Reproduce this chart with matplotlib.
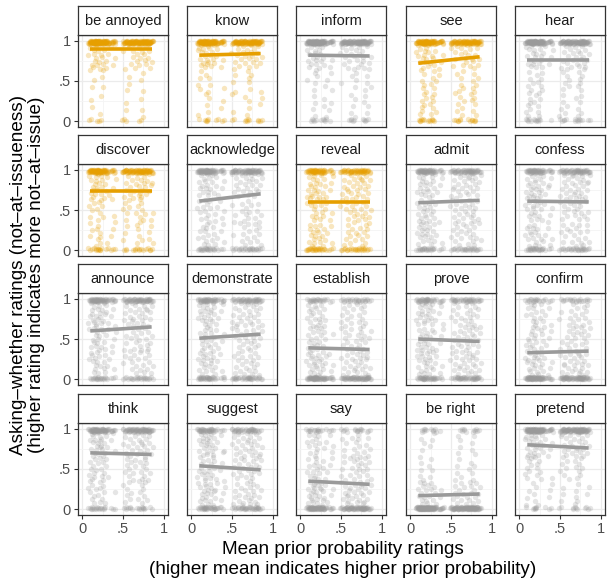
import numpy as np
import matplotlib
matplotlib.use("Agg")
import matplotlib.pyplot as plt

plt.rcParams["font.family"] = ["Liberation Sans", "DejaVu Sans"]

# ---------------- data ----------------
verbs = ["be annoyed", "know", "inform", "see", "hear",
         "discover", "acknowledge", "reveal", "admit", "confess",
         "announce", "demonstrate", "establish", "prove", "confirm",
         "think", "suggest", "say", "be right", "pretend"]
highlighted = ["be annoyed", "know", "see", "discover", "reveal"]

# regression line values at the low and high end of the prior range
fit_x = [0.10, 0.85]
fit_left = [0.90, 0.82, 0.82, 0.72, 0.76, 0.73, 0.61, 0.60, 0.59, 0.61,
            0.60, 0.51, 0.39, 0.50, 0.33, 0.70, 0.54, 0.35, 0.17, 0.80]
fit_right = [0.90, 0.84, 0.81, 0.80, 0.76, 0.73, 0.70, 0.60, 0.62, 0.60,
             0.65, 0.56, 0.37, 0.47, 0.35, 0.68, 0.49, 0.31, 0.19, 0.76]

# item prior means (x positions of the point columns)
item_priors = [0.10, 0.12, 0.15, 0.17, 0.19, 0.21, 0.24, 0.27, 0.30, 0.38,
               0.52, 0.56, 0.60, 0.64, 0.68, 0.71, 0.74, 0.77, 0.80, 0.84]

# counts of ratings per verb: at 0, low (.05-.35), mid (.35-.65), high (.65-.95), at 1
n_zero = [10, 21, 21, 27, 27, 33, 51, 54, 51, 54, 48, 69, 114, 78, 126, 39, 69, 126, 198, 21]
n_low  = [9, 15, 18, 27, 24, 27, 36, 42, 45, 42, 42, 45, 54, 51, 54, 33, 51, 60, 45, 21]
n_mid  = [12, 18, 21, 24, 27, 30, 36, 42, 45, 45, 42, 45, 42, 48, 42, 39, 48, 42, 18, 30]
n_high = [44, 51, 45, 45, 48, 51, 48, 51, 51, 54, 54, 51, 39, 48, 36, 54, 54, 36, 15, 54]
n_one  = [225, 195, 195, 177, 174, 159, 129, 111, 108, 105, 114, 90, 51, 75, 42, 135, 78, 36, 24, 174]

bin_ranges = [(0.0, 0.03), (0.05, 0.35), (0.35, 0.65), (0.65, 0.95), (0.96, 1.0)]

ORANGE = "#E69F00"
GREY = "#9A9A9A"

# ---------------- layout ----------------
W, H = 611, 584
fig = plt.figure(figsize=(W / 100, H / 100), dpi=100)

col_left = [78, 187, 296, 406, 515]
row_top = [35, 164, 293, 423]
pw, ph, sh = 90, 92, 29

A1, A2 = 0.7548776662466927, 0.5698402909980532   # low-discrepancy (R2) spacing


def fr(x, y, w, h):
    return [x / W, 1 - (y + h) / H, w / W, h / H]


def place(lo, hi, n, offset, items):
    # spread n ratings within [lo, hi] over the item columns without overlap patterns
    k = np.arange(n) + offset
    u = (0.5 + k * A1) % 1.0
    v = (0.5 + k * A2) % 1.0
    m = len(items)
    idx = np.minimum((u * m).astype(int), m - 1)
    jit = (u * m - idx - 0.5) * 0.06
    return items[idx] + jit, lo + v * (hi - lo)


items = np.array(item_priors)
for i, verb in enumerate(verbs):
    r, c = divmod(i, 5)
    x0, y0 = col_left[c], row_top[r]
    ax = fig.add_axes(fr(x0, y0, pw, ph))
    color = ORANGE if verb in highlighted else GREY

    counts = [n_zero[i], n_low[i], n_mid[i], n_high[i], n_one[i]]
    xs, ys = [], []
    for j, ((lo, hi), n) in enumerate(zip(bin_ranges, counts)):
        px, py = place(lo, hi, n, 37 * i + 211 * j, items)
        xs.append(px)
        ys.append(py)
    xs = np.concatenate(xs)
    ys = np.concatenate(ys)
    ax.scatter(xs, ys, s=15, color=color, alpha=0.25, linewidths=0, zorder=2)
    ax.plot(fit_x, [fit_left[i], fit_right[i]], color=color, lw=2.6,
            solid_capstyle="butt", zorder=3)

    ax.set_xlim(-0.05, 1.05)
    ax.set_ylim(-0.07, 1.07)
    ax.set_xticks([0, 0.5, 1])
    ax.set_yticks([0, 0.5, 1])
    ax.set_xticks([0.25, 0.75], minor=True)
    ax.set_yticks([0.25, 0.75], minor=True)
    ax.grid(True, which="major", color="#EBEBEB", lw=0.9, zorder=0)
    ax.grid(True, which="minor", color="#F4F4F4", lw=0.6, zorder=0)
    ax.set_axisbelow(True)
    for s in ax.spines.values():
        s.set_color("#333333")
        s.set_linewidth(0.9)
    ax.tick_params(which="minor", length=0)
    ax.tick_params(which="major", color="#333333", width=0.8, length=3,
                   labelsize=10.5, labelcolor="#4D4D4D", pad=2)
    if c == 0:
        ax.set_yticklabels(["0", ".5", "1"])
    else:
        ax.tick_params(axis="y", length=0, labelleft=False)
    if r == 3:
        ax.set_xticklabels(["0", ".5", "1"])
    else:
        ax.tick_params(axis="x", length=0, labelbottom=False)

    sax = fig.add_axes(fr(x0, y0 - sh, pw, sh))
    sax.set_xticks([])
    sax.set_yticks([])
    sax.set_facecolor("white")
    for s in sax.spines.values():
        s.set_color("#333333")
        s.set_linewidth(0.9)
    sax.text(0.5, 0.47, verb, ha="center", va="center", fontsize=10.5,
             color="#1A1A1A", transform=sax.transAxes)

fig.text(343 / W, 1 - 550 / H, "Mean prior probability ratings",
         ha="center", va="center", fontsize=13.6)
fig.text(343 / W, 1 - 570 / H, "(higher mean indicates higher prior probability)",
         ha="center", va="center", fontsize=13.6)
fig.text(19 / W, 1 - 275 / H, "Asking\u2013whether ratings (not\u2013at\u2013issueness)",
         ha="center", va="center", rotation=90, fontsize=13.6)
fig.text(37 / W, 1 - 275 / H, "(higher rating indicates more not\u2013at\u2013issue)",
         ha="center", va="center", rotation=90, fontsize=13.6)

fig.savefig("out.png", dpi=100)
